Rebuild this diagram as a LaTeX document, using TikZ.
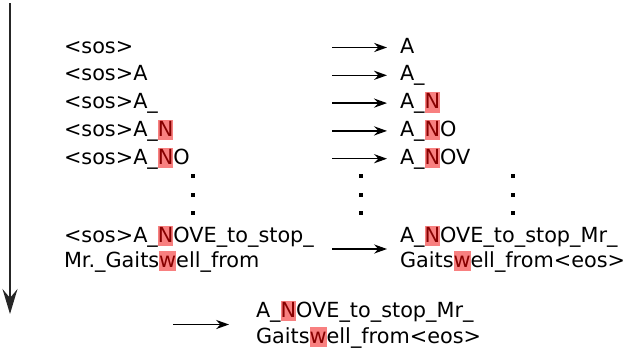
\documentclass[tikz,border=0pt]{standalone}
\usepackage{fontspec}
\setmainfont{DejaVu Sans}
\usepackage{tikz}
\usetikzlibrary{positioning,arrows.meta,calc}

\definecolor{hlbg}{RGB}{248,128,128}
\definecolor{hlfg}{RGB}{135,0,0}
\newcommand{\hl}[1]{{\setlength{\fboxsep}{0pt}\colorbox{hlbg}{\textcolor{hlfg}{\rule[-0.19em]{0pt}{0.97em}#1}}}}

\tikzset{
  tok/.style={inner sep=0pt, outer sep=0pt, anchor=base west,
              text height=0.8em, text depth=0.25em},
  outtok/.style={tok, inner xsep=6.5pt},
  arr/.style={-{Stealth[length=6.5pt,width=4.6pt,inset=2.2pt]}, line width=0.7pt},
  timearr/.style={-{Stealth[length=12.5pt,width=7.5pt,inset=4.5pt]}, line width=1pt, black!85}
}

\begin{document}
\begin{tikzpicture}[x=0.5pt,y=-0.5pt,font=\fontsize{10.4}{12.5}\selectfont]
            \useasboundingbox (0,0) rectangle (626,349);
            % time axis
            \coordinate (tstart) at (10,3);
            \coordinate (tend) at (10,314);
            \draw[timearr] (tstart) -- (tend);
            % inputs
            \node[tok](in1) at (64,53){<sos>};
            \node[tok](in2) at (64,80.8){<sos>A};
            \node[tok](in3) at (64,108.6){<sos>A\_};
            \node[tok](in4) at (64,136.4){<sos>A\_\hl{N}};
            \node[tok](in5) at (64,164.2){<sos>A\_\hl{N}O};
            % outputs
            \node[outtok](out1) at (387,53){A};
            \node[outtok](out2) at (387,80.8){A\_};
            \node[outtok](out3) at (387,108.6){A\_\hl{N}};
            \node[outtok](out4) at (387,136.4){A\_\hl{N}O};
            \node[outtok](out5) at (387,164.2){A\_\hl{N}OV};
            \foreach \i in {1,...,5}{
                \coordinate (s\i) at ([xshift=-27.5pt]out\i.west);
                \draw[arr] (s\i) -- (out\i.west);
            }
            % dots
            \foreach \x in {193,361,513}
                \foreach \y in {176,195,213}
                    \fill (\x-2,\y-2) rectangle (\x+2,\y+2);
            % last step
            \node[tok](in6a) at (64,242){<sos>A\_\hl{N}OVE\_to\_stop\_};
            \node[tok](in6b) at (64,267){Mr.\_Gaits\hl{w}ell\_from};
            \node[outtok](out6a) at (387,242){A\_\hl{N}OVE\_to\_stop\_Mr\_};
            \node[outtok](out6b) at (387,267){Gaits\hl{w}ell\_from<eos>};
            \coordinate (e6) at ($(out6a.west)!0.5!(out6b.west)$);
            \coordinate (s6) at ([xshift=-27.5pt]e6);
            \draw[arr] (s6) -- (e6);
            % result
            \node[tok,inner xsep=13.5pt](res1) at (229,317){A\_\hl{N}OVE\_to\_stop\_Mr\_};
            \node[tok,inner xsep=13.5pt](res2) at (229,343){Gaits\hl{w}ell\_from<eos>};
            \coordinate (e7) at ($(res1.west)!0.5!(res2.west)$);
            \coordinate (s7) at ([xshift=-28pt]e7);
            \draw[arr] (s7) -- (e7);
\end{tikzpicture}
\end{document}
